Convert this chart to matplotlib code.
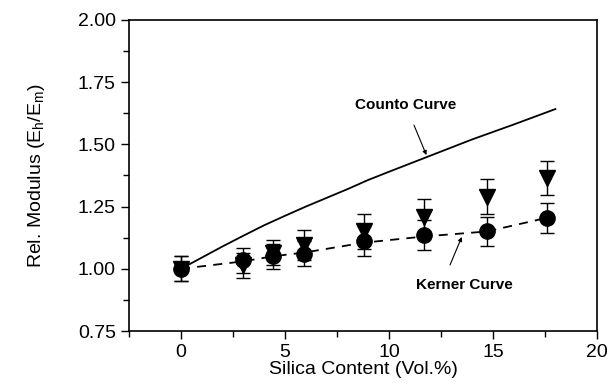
import numpy as np
import matplotlib.pyplot as plt
from matplotlib.ticker import MultipleLocator

plt.rcParams['font.family'] = ['Liberation Sans', 'DejaVu Sans']
plt.rcParams['mathtext.default'] = 'regular'

# experimental data
silica = [0, 3, 4.4, 5.9, 8.8, 11.7, 14.7, 17.6]
circ_y = [1.00, 1.035, 1.05, 1.06, 1.11, 1.135, 1.15, 1.205]
circ_err = [0.05, 0.05, 0.05, 0.05, 0.06, 0.06, 0.06, 0.06]
tri_y = [1.00, 1.015, 1.065, 1.095, 1.15, 1.21, 1.29, 1.365]
tri_err = [0.05, 0.05, 0.05, 0.06, 0.07, 0.07, 0.07, 0.07]

# model curves
counto_x = [0, 1, 2, 3, 4, 5, 6, 7, 8, 9, 10, 12, 14, 16, 18]
counto_y = [1.00, 1.045, 1.09, 1.133, 1.175, 1.213, 1.25, 1.285, 1.32,
            1.357, 1.39, 1.455, 1.52, 1.58, 1.642]
kerner_x = [0, 3, 4.4, 5.9, 8.8, 11.7, 14.7, 17.6]
kerner_y = [1.00, 1.03, 1.05, 1.065, 1.105, 1.13, 1.15, 1.205]

fig = plt.figure(figsize=(6.09, 3.84), dpi=100)
ax = fig.add_axes([0.2118, 0.138, 0.7685, 0.81])

ax.plot(counto_x, counto_y, color='k', lw=1.3)
ax.plot(kerner_x, kerner_y, color='k', lw=1.3, ls=(0, (5, 4)))

ax.errorbar(silica, tri_y, yerr=tri_err, fmt='v', color='k', ms=11,
            capsize=4.7, elinewidth=1, capthick=1)
ax.errorbar(silica, circ_y, yerr=circ_err, fmt='o', color='k', ms=11,
            capsize=4.7, elinewidth=1, capthick=1)

ax.annotate('Counto Curve', xy=(11.8, 1.457), xytext=(10.8, 1.658),
            ha='center', va='center', fontsize=11, fontweight='bold',
            arrowprops=dict(arrowstyle='-|>', color='k', lw=0.8,
                            shrinkA=8, shrinkB=0, mutation_scale=6))
ax.annotate('Kerner Curve', xy=(13.5, 1.128), xytext=(13.6, 0.935),
            ha='center', va='center', fontsize=11, fontweight='bold',
            arrowprops=dict(arrowstyle='-|>', color='k', lw=0.8,
                            shrinkA=8, shrinkB=0, mutation_scale=6,
                            relpos=(0.3, 1.0)))

ax.set_xlim(-2.5, 20)
ax.set_ylim(0.75, 2.0)
ax.set_xticks([0, 5, 10, 15, 20])
ax.set_yticks([0.75, 1.00, 1.25, 1.50, 1.75, 2.00])
ax.set_yticklabels(['0.75', '1.00', '1.25', '1.50', '1.75', '2.00'])
ax.xaxis.set_minor_locator(MultipleLocator(2.5))
ax.yaxis.set_minor_locator(MultipleLocator(0.125))
ax.tick_params(which='major', direction='out', length=6, width=1,
               labelsize=14, top=False, right=False)
ax.tick_params(which='minor', direction='out', length=4, width=1,
               top=False, right=False)
for s in ax.spines.values():
    s.set_linewidth(1.2)

ax.set_xlabel('Silica Content (Vol.%)', fontsize=14, labelpad=0)
ax.set_ylabel('Rel. Modulus (E$_h$/E$_m$)', fontsize=14, labelpad=22)

fig.savefig('out.png', dpi=100)
